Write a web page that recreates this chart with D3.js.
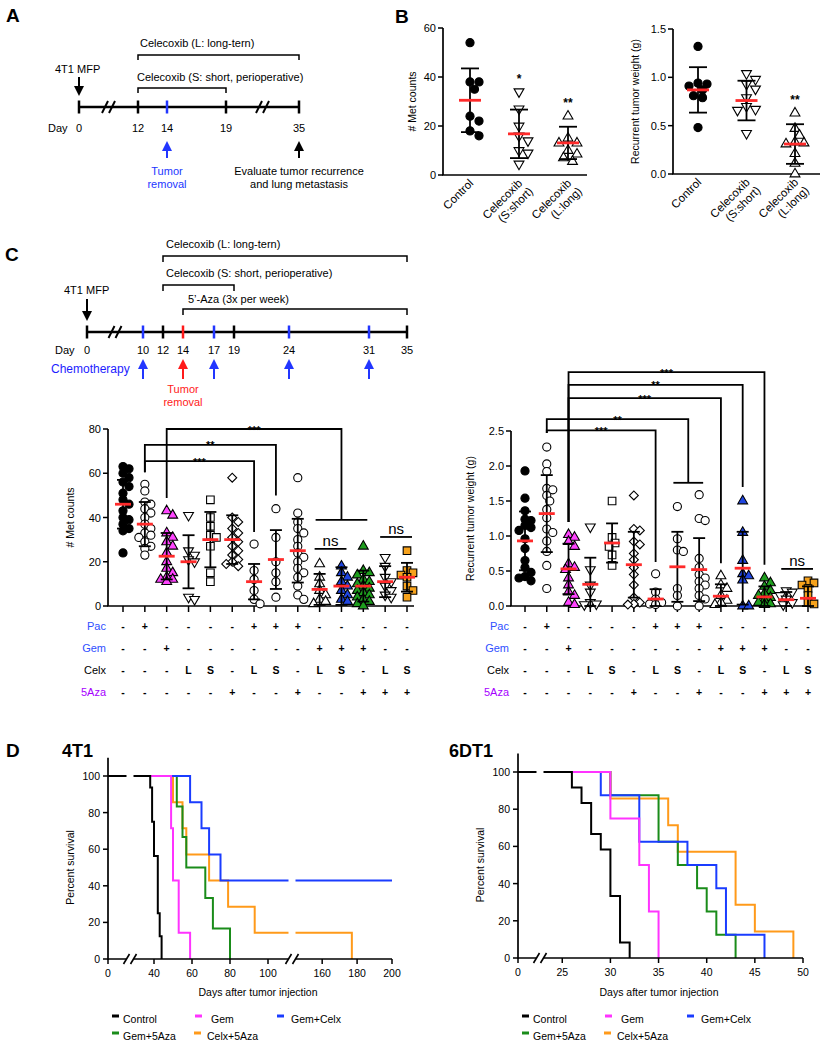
<!DOCTYPE html>
<html><head><meta charset="utf-8">
<script src="https://cdn.jsdelivr.net/npm/d3@7/dist/d3.min.js"></script>
<style>html,body{margin:0;padding:0;background:#fff}svg{display:block}</style>
</head><body>
<script>
// ================= DATA =================
// Panel A timeline
const timelineADays = [0, 12, 14, 19, 35];
const removalDayA = 14;

// Panel B
const bCategoryLines = [["Control"], ["Celecoxib", "(S:short)"], ["Celecoxib", "(L:long)"]];
const bMetValues = [
  [54, 38, 38, 35, 24, 22, 18, 16],
  [34, 27, 20, 16, 14, 10, 9, 4.5],
  [24, 15, 13, 13, 10, 8.5, 7, 5.5]
];
const bMetMean = [30.5, 16.8, 13.1];
const bMetSD = [13, 9.9, 6.6];
const bMetStars = ["", "*", "**"];
const bMetTicks = [0, 20, 40, 60];
const bWeightValues = [
  [1.32, 0.94, 0.93, 0.91, 0.87, 0.81, 0.79, 0.48],
  [1.04, 0.98, 0.93, 0.88, 0.79, 0.70, 0.67, 0.66, 0.42],
  [0.63, 0.47, 0.40, 0.33, 0.32, 0.31, 0.21, 0.11, 0.0]
];
const bWeightMean = [0.87, 0.76, 0.31];
const bWeightSD = [0.235, 0.205, 0.205];
const bWeightStars = ["", "", "**"];
const bWeightTicks = [0, 0.5, 1.0, 1.5];

// Panel C timeline
const timelineCDays = [0, 10, 12, 14, 17, 19, 24, 31, 35];
const chemoDays = [10, 17, 24, 31];
const removalDayC = 14;

// Panel C dot plots
const cGroups = ["Control", "Pac", "Gem", "Celx L", "Celx S", "5Aza", "Pac+L", "Pac+S", "Pac+5Aza",
  "Gem+L", "Gem+S", "Gem+5Aza", "L+5Aza", "S+5Aza"];
const cPac  = ["-", "+", "-", "-", "-", "-", "+", "+", "+", "-", "-", "-", "-", "-"];
const cGem  = ["-", "-", "+", "-", "-", "-", "-", "-", "-", "+", "+", "+", "-", "-"];
const cCelx = ["-", "-", "-", "L", "S", "-", "L", "S", "-", "L", "S", "-", "L", "S"];
const c5Aza = ["-", "-", "-", "-", "-", "+", "-", "-", "+", "-", "-", "+", "+", "+"];
const cRowNames = ["Pac", "Gem", "Celx", "5Aza"];

const cMetValues = [
  [63, 62, 60, 58, 56, 54, 51, 48, 46, 43, 40, 39, 37, 35, 34, 24],
  [55, 52, 47, 46, 44, 42, 40, 37, 35, 33, 32, 31, 29, 27, 26, 23],
  [43, 41, 33, 31, 29, 27, 24, 20, 17, 15, 13, 12, 12, 11],
  [41, 25, 23, 21, 20, 4, 3],
  [48, 40, 36, 32, 31, 27, 15, 11],
  [58, 40, 38, 35, 33, 31, 29, 27, 25, 23, 21, 20, 19, 18],
  [28, 16, 12, 7, 3, 1],
  [44, 31, 20, 15, 11, 4],
  [58, 42, 38, 35, 33, 30, 27, 24, 22, 20, 17, 15, 13, 9, 5, 3],
  [19, 13, 10, 7, 5, 3, 2, 1],
  [18, 15, 13, 11, 9, 7, 5, 3, 2],
  [27, 16, 15, 14, 12, 11, 10, 9, 8, 7, 6, 5, 4, 3, 2, 1, 0],
  [22, 18, 13, 11, 9, 7, 5, 4],
  [25, 16, 15, 14, 13, 9, 7, 4]
];
const cMetMean = [46, 37, 22.5, 20, 30, 30, 11, 21, 25, 7.5, 9, 9, 11, 13];
const cMetSD = [11, 10, 10.5, 12, 12.5, 11, 8, 13.3, 14.4, 7, 8.5, 7, 7, 6.5];
const cMetTicks = [0, 20, 40, 60, 80];

const cWeightValues = [
  [1.93, 1.54, 1.36, 1.24, 1.22, 1.15, 1.12, 1.08, 0.96, 0.82, 0.65, 0.55, 0.48, 0.42, 0.40, 0.36],
  [2.27, 2.03, 1.92, 1.68, 1.66, 1.58, 1.50, 1.38, 1.26, 1.10, 1.05, 0.93, 0.78, 0.58, 0.25],
  [1.02, 0.98, 0.92, 0.85, 0.60, 0.55, 0.52, 0.40, 0.30, 0.20, 0.15, 0.05, 0.02],
  [1.13, 0.52, 0.30, 0.20, 0.05, 0.03, 0.02],
  [1.50, 0.98, 0.90, 0.85, 0.73, 0.58],
  [1.58, 1.10, 1.08, 0.92, 0.88, 0.75, 0.66, 0.55, 0.45, 0.30, 0.12, 0.05, 0.03, 0.02],
  [0.46, 0.20, 0.10, 0.05, 0.03, 0.02],
  [1.42, 0.96, 0.80, 0.78, 0.25, 0.15, 0.0],
  [1.59, 1.25, 1.22, 0.68, 0.55, 0.45, 0.40, 0.35, 0.30, 0.25, 0.15, 0.10, 0.0],
  [0.43, 0.30, 0.25, 0.15, 0.08, 0.05, 0.02],
  [1.50, 1.05, 0.65, 0.46, 0.43, 0.37, 0.0, 0.0],
  [0.40, 0.33, 0.28, 0.22, 0.18, 0.15, 0.12, 0.08, 0.05, 0.03, 0.02],
  [0.22, 0.20, 0.15, 0.10, 0.05, 0.02],
  [0.36, 0.33, 0.30, 0.25, 0.15, 0.05, 0.03]
];
const cWeightMean = [0.93, 1.32, 0.53, 0.31, 0.90, 0.59, 0.10, 0.56, 0.52, 0.14, 0.54, 0.13, 0.09, 0.11];
const cWeightSD = [0.42, 0.55, 0.36, 0.38, 0.28, 0.47, 0.14, 0.50, 0.45, 0.17, 0.52, 0.15, 0.11, 0.17];
const cWeightTicks = [0, 0.5, 1.0, 1.5, 2.0, 2.5];

// significance brackets (levels in data units)
const cMetBrackets = [
  {from: 1, to: [6], level: 65.5, fromEnd: 60.5, toEnd: 33.4, label: "***"},
  {from: 1, to: [7], level: 72.8, fromEnd: 60.5, toEnd: 50, label: "**"},
  {from: 2, to: [9, 10, 11], level: 80, fromEnd: 48.8, toEnd: 38.9, label: "***"}
];
const cMetNs = [{groups: [9, 10], level: 25.8}, {groups: [12, 13], level: 31.2}];
const cWeightBrackets = [
  {from: 1, to: [6], level: 2.51, fromEnd: 2.47, toEnd: 0.63, label: "***"},
  {from: 1, to: [7, 8], level: 2.67, fromEnd: 2.47, toEnd: 1.76, label: "**"},
  {from: 2, to: [9], level: 2.97, fromEnd: 1.2, toEnd: 0.61, label: "***"},
  {from: 2, to: [10], level: 3.16, fromEnd: 1.2, toEnd: 1.70, label: "**"},
  {from: 2, to: [11], level: 3.34, fromEnd: 1.2, toEnd: 0.59, label: "***"}
];
const cWeightNs = [{groups: [12, 13], level: 0.53}];

// Panel D survival (day, percent)
const survSeries = ["Control", "Gem", "Gem+Celx", "Gem+5Aza", "Celx+5Aza"];
const surv4T1 = {
  "Control":   [[0, 100], [38, 93.75], [39, 75], [40, 56.25], [42, 25], [43, 12.5], [44, 0]],
  "Gem":       [[0, 100], [49, 71.4], [50, 42.9], [53, 14.3], [59, 0]],
  "Gem+Celx":  [[0, 100], [59, 85.7], [65, 71.4], [69, 57.1], [75, 42.9], [200, 42.9]],
  "Gem+5Aza":  [[0, 100], [52, 83.3], [55, 66.7], [57, 50], [67, 33.3], [71, 16.7], [80, 0]],
  "Celx+5Aza": [[0, 100], [50, 85.7], [55, 71.4], [57, 57.1], [69, 42.9], [79, 28.6], [93, 14.3], [177, 0]]
};
const surv6DT1 = {
  "Control":   [[0, 100], [26, 91.7], [27, 83.3], [28, 66.7], [29, 58.3], [30, 33.3], [31, 8.3], [32, 0]],
  "Gem":       [[0, 100], [30, 75], [33, 50], [34, 25], [35, 0]],
  "Gem+Celx":  [[0, 100], [29, 87.5], [33, 62.5], [38, 50], [41, 37.5], [42, 12.5], [46, 0]],
  "Gem+5Aza":  [[0, 100], [30, 87.5], [35, 62.5], [37, 50], [39, 37.5], [40, 25], [41, 12.5], [43, 0]],
  "Celx+5Aza": [[0, 100], [30, 85.7], [36, 71.4], [37, 57.1], [43, 28.6], [45, 14.3], [49, 0]]
};
const survYTicks = [0, 20, 40, 60, 80, 100];
const surv4T1XTicks = [0, 40, 60, 80, 100, 160, 180, 200];
const surv6DT1XTicks = [0, 25, 30, 35, 40, 45, 50];

// ================= STYLE =================
const F = "'Liberation Sans', Arial, Helvetica, sans-serif";
const RED = "#ff2a2a", BLUE = "#2236ff", TBLUE = "#2f4fff", PURPLE = "#a600ff";
const survColors = {"Control": "#000000", "Gem": "#ff33ff", "Gem+Celx": "#1a3cff", "Gem+5Aza": "#1a8c1a", "Celx+5Aza": "#ff9a1a"};
const cShapes = ["circle", "circle", "triangle", "triangleDown", "square", "diamond", "circle", "circle", "circle",
  "triangle", "triangle", "triangle", "triangleDown", "square"];
const cFills = ["#000", "#fff", "#ff44ff", "#fff", "#fff", "#fff", "#fff", "#fff", "#fff", "#fff", "#1f45e0", "#1e9e1e", "#fff", "#f6a21c"];
const bShapes = ["circle", "triangleDown", "triangle"];
const bFills = ["#000", "#fff", "#fff"];

// ================= HELPERS =================
const W = 826, H = 1050;
const svg = d3.select("body").append("svg").attr("width", W).attr("height", H);
svg.append("rect").attr("width", W).attr("height", H).attr("fill", "#fff");

function txt(g, x, y, s, o = {}) {
  return g.append("text").attr("x", x).attr("y", y).text(s)
    .attr("font-family", F).attr("font-size", o.size || 11)
    .attr("font-weight", o.bold ? "bold" : "normal")
    .attr("fill", o.color || "#000").attr("text-anchor", o.anchor || "start");
}
function ln(g, x1, y1, x2, y2, o = {}) {
  return g.append("line").attr("x1", x1).attr("y1", y1).attr("x2", x2).attr("y2", y2)
    .attr("stroke", o.color || "#000").attr("stroke-width", o.w || 1.5).attr("stroke-linecap", o.cap || "butt");
}
function arrow(g, x, yTail, yTip, color) {
  const dir = yTip > yTail ? 1 : -1, hl = 10, hw = 5;
  ln(g, x, yTail, x, yTip - dir * hl, {color, w: 2});
  g.append("path").attr("d", `M${x},${yTip}L${x - hw},${yTip - dir * hl}L${x + hw},${yTip - dir * hl}Z`).attr("fill", color);
}
function bracketDown(g, x1, x2, y, drop) {
  g.append("path").attr("d", `M${x1},${y + drop}V${y}H${x2}V${y + drop}`)
    .attr("fill", "none").attr("stroke", "#000").attr("stroke-width", 1.5);
}
function slashes(g, cx, cy, half, w) {
  [-3.5, 3.5].forEach(o => ln(g, cx + o - 3, cy + half, cx + o + 3, cy - half, {w: w || 2}));
}
function symbolPath(shape) {
  const m = {circle: [d3.symbolCircle, 52], triangle: [d3.symbolTriangle, 42], triangleDown: [d3.symbolTriangle, 42],
    square: [d3.symbolSquare, 58], diamond: [d3.symbolSquare, 40]};
  return d3.symbol().type(m[shape][0]).size(m[shape][1])();
}
function symbolRot(shape) { return shape === "triangleDown" ? 180 : shape === "diamond" ? 45 : 0; }

function swarm(vals, y, cx, minD, step, maxOff) {
  const pts = vals.map(v => ({v, y: y(v)})).sort((a, b) => a.y - b.y);
  const placed = [];
  pts.forEach(p => {
    let best = null, bestScore = -1;
    for (let k = 0; k < 40; k++) {
      const off = k === 0 ? 0 : (k % 2 === 1 ? 1 : -1) * Math.ceil(k / 2) * step;
      if (Math.abs(off) > maxOff) continue;
      const x = cx + off;
      const md = placed.length ? d3.min(placed, q => Math.hypot(q.x - x, q.y - p.y)) : 1e9;
      if (md >= minD) { best = x; break; }
      if (md > bestScore) { bestScore = md; best = x; }
    }
    p.x = best; placed.push(p);
  });
  return pts;
}

function dotPlot(cfg) {
  const g = svg.append("g");
  const y = d3.scaleLinear().domain(cfg.yDomain).range([cfg.y0, cfg.yTop]);
  const x = d3.scalePoint().domain(d3.range(cfg.values.length)).range(cfg.xRange);
  ln(g, cfg.axisX, cfg.y0, cfg.axisX, cfg.yTop, {w: 1.7});
  ln(g, cfg.axisX - 0.85, cfg.y0, cfg.axisEnd, cfg.y0, {w: 1.7});
  cfg.ticks.forEach(t => {
    ln(g, cfg.axisX - 5, y(t), cfg.axisX, y(t), {w: 1.5});
    txt(g, cfg.axisX - 7, y(t) + 4, cfg.fmt(t), {anchor: "end", size: 11});
  });
  if (cfg.xTicks) x.domain().forEach(i => ln(g, x(i), cfg.y0, x(i), cfg.y0 + 6, {w: 1.5}));
  g.append("text").attr("transform", `translate(${cfg.labelX},${(cfg.y0 + cfg.yTop) / 2}) rotate(-90)`)
    .attr("text-anchor", "middle").attr("dy", "0.35em").attr("font-family", F).attr("font-size", 10.5).text(cfg.ylabel);
  cfg.values.forEach((vals, i) => {
    const pts = swarm(vals, y, x(i), cfg.minD, cfg.step, cfg.maxOff);
    g.append("g").selectAll("path").data(pts).join("path")
      .attr("d", symbolPath(cfg.shapes[i]))
      .attr("transform", d => `translate(${d.x},${d.y}) rotate(${symbolRot(cfg.shapes[i])})`)
      .attr("fill", cfg.fills[i]).attr("stroke", "#000").attr("stroke-width", 1.1);
  });
  cfg.means.forEach((m, i) => {
    const hi = y(m + cfg.sds[i]), lo = y(Math.max(0, m - cfg.sds[i]));
    ln(g, x(i), hi, x(i), lo, {w: 1.8});
    ln(g, x(i) - cfg.capW / 2, hi, x(i) + cfg.capW / 2, hi, {w: 1.8});
    ln(g, x(i) - cfg.capW / 2, lo, x(i) + cfg.capW / 2, lo, {w: 1.8});
    ln(g, x(i) - cfg.meanW / 2, y(m), x(i) + cfg.meanW / 2, y(m), {w: 2.8, color: RED});
  });
  return {g, x, y};
}

// ================= PANEL A =================
{
  const g = svg.append("g");
  txt(g, 6, 22, "A", {size: 19, bold: true});
  const x = d3.scaleLinear().domain(timelineADays).range([79, 138, 167, 226, 299]);
  const yL = 107;
  ln(g, x(0), yL, x(35), yL, {w: 2.5});
  timelineADays.forEach(d => {
    ln(g, x(d), yL - 6.5, x(d), yL + 6.5, {w: 2.5, color: d === removalDayA ? BLUE : "#000"});
    txt(g, x(d), 132, d, {anchor: "middle"});
  });
  txt(g, 48, 132, "Day");
  slashes(g, (x(0) + x(12)) / 2, yL, 6);
  slashes(g, (x(19) + x(35)) / 2, yL, 6);
  txt(g, 140, 47, "Celecoxib (L: long-tern)");
  bracketDown(g, x(12), x(35), 55, 5);
  txt(g, 137, 81, "Celecoxib (S: short, perioperative)");
  bracketDown(g, x(12), x(19), 88, 5);
  txt(g, 55, 73, "4T1 MFP");
  arrow(g, x(0), 77, 96, "#000");
  arrow(g, x(14), 158, 141, BLUE);
  txt(g, x(14), 175, "Tumor", {anchor: "middle", color: BLUE});
  txt(g, x(14), 188, "removal", {anchor: "middle", color: BLUE});
  arrow(g, x(35), 158, 141, "#000");
  txt(g, x(35), 175, "Evaluate tumor recurrence", {anchor: "middle"});
  txt(g, x(35), 188, "and lung metastasis", {anchor: "middle"});
}

// ================= PANEL B =================
txt(svg, 395, 23, "B", {size: 19, bold: true});
function bPanel(cfg) {
  const p = dotPlot(Object.assign({
    xTicks: false, minD: 7.5, step: 4.5, maxOff: 13, capW: 18, meanW: 22,
    shapes: bShapes, fills: bFills
  }, cfg));
  cfg.values.forEach((vals, i) => {
    const t = p.g.append("text").attr("transform", `translate(${p.x(i) + 4},${cfg.y0 + 9}) rotate(-45)`)
      .attr("text-anchor", "end").attr("font-family", F).attr("font-size", 11.5);
    bCategoryLines[i].forEach((s, k) => t.append("tspan").attr("x", k * 2).attr("dy", k ? "1.15em" : 0).text(s));
    if (cfg.stars[i]) txt(p.g, p.x(i), p.y(d3.max(vals)) - 9, cfg.stars[i], {anchor: "middle", size: 12, bold: true});
  });
}
bPanel({values: bMetValues, means: bMetMean, sds: bMetSD, stars: bMetStars, yDomain: [0, 60], y0: 175, yTop: 28,
  xRange: [470, 568], axisX: 443, axisEnd: 587, ticks: bMetTicks, fmt: d3.format("d"), labelX: 412, ylabel: "# Met counts"});
bPanel({values: bWeightValues, means: bWeightMean, sds: bWeightSD, stars: bWeightStars, yDomain: [0, 1.5], y0: 174, yTop: 29,
  xRange: [698, 795], axisX: 673, axisEnd: 820, ticks: bWeightTicks, fmt: d3.format(".1f"), labelX: 635, ylabel: "Recurrent tumor weight (g)"});

// ================= PANEL C timeline =================
{
  const g = svg.append("g");
  txt(g, 5, 261, "C", {size: 19, bold: true});
  const x = d3.scaleLinear().domain(timelineCDays).range([87, 143, 163, 183, 214, 234, 289, 369, 407]);
  const yL = 332;
  ln(g, x(0), yL, x(35), yL, {w: 2.5});
  timelineCDays.forEach(d => {
    const c = d === removalDayC ? "#ff1a1a" : chemoDays.includes(d) ? BLUE : "#000";
    ln(g, x(d), yL - 6.5, x(d), yL + 6.5, {w: 2.5, color: c});
    txt(g, x(d), 354, d, {anchor: "middle"});
  });
  txt(g, 55, 354, "Day");
  slashes(g, (x(0) + x(10)) / 2, yL, 6);
  txt(g, 166, 248, "Celecoxib (L: long-tern)");
  bracketDown(g, x(12), x(35), 256, 6);
  txt(g, 166, 277, "Celecoxib (S: short, perioperative)");
  bracketDown(g, x(12), x(19), 285, 6);
  txt(g, 188, 303, "5\u2019-Aza (3x per week)");
  bracketDown(g, x(14), x(35), 309, 6);
  txt(g, 64, 294, "4T1 MFP");
  arrow(g, x(0), 299, 321, "#000");
  txt(g, 51, 373, "Chemotherapy", {color: "#1d1dff", size: 12});
  chemoDays.forEach(d => arrow(g, x(d), 379, 359, BLUE));
  arrow(g, x(removalDayC), 379, 359, "#ff1a1a");
  txt(g, x(removalDayC), 393, "Tumor", {anchor: "middle", color: "#ff1a1a"});
  txt(g, x(removalDayC), 406, "removal", {anchor: "middle", color: "#ff1a1a"});
}

// ================= PANEL C dot plots =================
function cPanel(cfg) {
  const p = dotPlot(Object.assign({
    xTicks: true, minD: 6, step: 3, maxOff: 9, capW: 12, meanW: 16,
    shapes: cShapes, fills: cFills
  }, cfg));
  const g = p.g, x = p.x, y = p.y;
  const rows = [cPac, cGem, cCelx, c5Aza];
  const rowColors = [TBLUE, TBLUE, "#000", PURPLE];
  rows.forEach((r, k) => {
    const yy = 630 + k * 22;
    txt(g, cfg.rowLabelX, yy, cRowNames[k], {anchor: "end", color: rowColors[k], size: 11});
    r.forEach((s, i) => txt(g, x(i), yy, s, {anchor: "middle", size: 10.5, bold: true, color: "#000"}));
  });
  cfg.brackets.forEach(b => {
    const xf = x(b.from);
    const xt = d3.mean(b.to, i => x(i));
    g.append("path").attr("d", `M${xf},${y(b.fromEnd)}V${y(b.level)}H${xt}V${y(b.toEnd)}`)
      .attr("fill", "none").attr("stroke", "#000").attr("stroke-width", 1.8);
    if (b.to.length > 1) ln(g, x(b.to[0]) - 4, y(b.toEnd), x(b.to[b.to.length - 1]) + 4, y(b.toEnd), {w: 1.8});
    txt(g, (xf + xt) / 2, y(b.level) + 4.5, b.label, {anchor: "middle", size: 11, bold: true});
  });
  cfg.ns.forEach(n => {
    const x1 = x(n.groups[0]) - 5, x2 = x(n.groups[n.groups.length - 1]) + 5;
    ln(g, x1, y(n.level), x2, y(n.level), {w: 1.8});
    txt(g, (x1 + x2) / 2, y(n.level) - 3, "ns", {anchor: "middle", size: 15});
  });
}
cPanel({values: cMetValues, means: cMetMean, sds: cMetSD, yDomain: [0, 80], y0: 606, yTop: 429,
  xRange: [123, 407], axisX: 108, axisEnd: 414, ticks: cMetTicks, fmt: d3.format("d"), labelX: 70, ylabel: "# Met counts",
  rowLabelX: 106, brackets: cMetBrackets, ns: cMetNs});
cPanel({values: cWeightValues, means: cWeightMean, sds: cWeightSD, yDomain: [0, 2.5], y0: 606, yTop: 431,
  xRange: [525, 808], axisX: 511, axisEnd: 814, ticks: cWeightTicks, fmt: d3.format(".1f"), labelX: 470,
  ylabel: "Recurrent tumor weight (g)", rowLabelX: 509, brackets: cWeightBrackets, ns: cWeightNs});

// ================= PANEL D =================
txt(svg, 6, 757, "D", {size: 19, bold: true});
function survPanel(cfg) {
  const g = svg.append("g");
  txt(g, cfg.titleX, 757, cfg.title, {size: 18, bold: true});
  const x = d3.scaleLinear().domain(cfg.xDomain).range(cfg.xRange);
  const y = d3.scaleLinear().domain([0, 110]).range([cfg.y0, cfg.yTop]);
  const x0 = cfg.xRange[0], xEnd = cfg.xRange[cfg.xRange.length - 1];
  const line = d3.line().x(d => x(d[0])).y(d => y(d[1])).curve(d3.curveStepAfter);
  ["Celx+5Aza", "Gem+5Aza", "Gem+Celx", "Gem", "Control"].forEach(s => {
    g.append("path").attr("d", line(cfg.data[s])).attr("fill", "none")
      .attr("stroke", survColors[s]).attr("stroke-width", 2);
  });
  ln(g, x0, y(0), xEnd, y(0), {w: 1.7});
  ln(g, x0, y(0) + 0.85, x0, y(110), {w: 1.7});
  survYTicks.forEach(t => {
    ln(g, x0 - 5, y(t), x0, y(t), {w: 1.5});
    txt(g, x0 - 8, y(t) + 4, t, {anchor: "end", size: 10.5});
  });
  cfg.xTicks.forEach(t => {
    ln(g, x(t), y(0), x(t), y(0) + 5, {w: 1.5});
    txt(g, x(t), y(0) + 18, t, {anchor: "middle", size: 10.5});
  });
  cfg.breaks.forEach(bx => {
    g.append("rect").attr("x", bx - 3.5).attr("y", y(106)).attr("width", 7).attr("height", y(0) - y(106) + 2.5).attr("fill", "#fff");
    slashes(g, bx, y(0), 5, 1.6);
  });
  txt(g, cfg.xLabelX, 996, "Days after tumor injection", {anchor: "middle", size: 10.5});
  g.append("text").attr("transform", `translate(${cfg.yLabelX},${(y(0) + y(100)) / 2}) rotate(-90)`)
    .attr("text-anchor", "middle").attr("dy", "0.35em").attr("font-family", F).attr("font-size", 10.5).text("Percent survival");
  const L = cfg.legendX;
  const items = [[survSeries[0], L + 4, L + 15, 1023], [survSeries[1], L + 87, L + 103, 1023], [survSeries[2], L + 169, L + 183, 1023],
    [survSeries[3], L + 4, L + 15, 1040], [survSeries[4], L + 86, L + 99, 1040]];
  items.forEach(([s, mx, tx, ty]) => {
    ln(g, mx, ty - 7, mx + 7, ty - 7, {w: 3, color: survColors[s]});
    txt(g, tx, ty, s, {size: 10.5});
  });
}
survPanel({title: "4T1", titleX: 62, data: surv4T1, xDomain: [0, 30, 110, 145, 200], xRange: [108, 135, 287, 296, 392],
  y0: 959, yTop: 757.7, xTicks: surv4T1XTicks, breaks: [130, 292], xLabelX: 258, yLabelX: 70, legendX: 108});
survPanel({title: "6DT1", titleX: 449, data: surv6DT1, xDomain: [0, 23, 50], xRange: [518, 543, 803],
  y0: 958, yTop: 753.4, xTicks: surv6DT1XTicks, breaks: [540], xLabelX: 659, yLabelX: 480, legendX: 518});
</script>
</body></html>
